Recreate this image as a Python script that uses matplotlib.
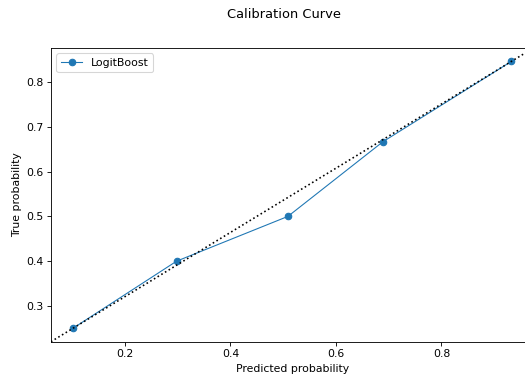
import numpy as np
import matplotlib
matplotlib.use("Agg")
import matplotlib.pyplot as plt

# calibration points
prob_pred = [0.1015, 0.298, 0.509, 0.689, 0.9326]
prob_true = [0.25, 0.40, 0.50, 0.6667, 0.8462]
model_name = "LogitBoost"

DPI = 78
fig = plt.figure(figsize=(525 / DPI, 378 / DPI), dpi=DPI)
ax = fig.add_axes([0.097, 0.096, 0.919, 0.777])

ax.plot(prob_pred, prob_true, marker='o', linewidth=1, label=model_name)
ax.plot([0, 1], [0, 1], 'k:', transform=ax.transAxes)

ax.set_xlabel("Predicted probability")
ax.set_ylabel("True probability")
ax.legend(loc="upper left")
fig.suptitle("Calibration Curve", x=0.541)

fig.savefig("out.png", dpi=DPI)
